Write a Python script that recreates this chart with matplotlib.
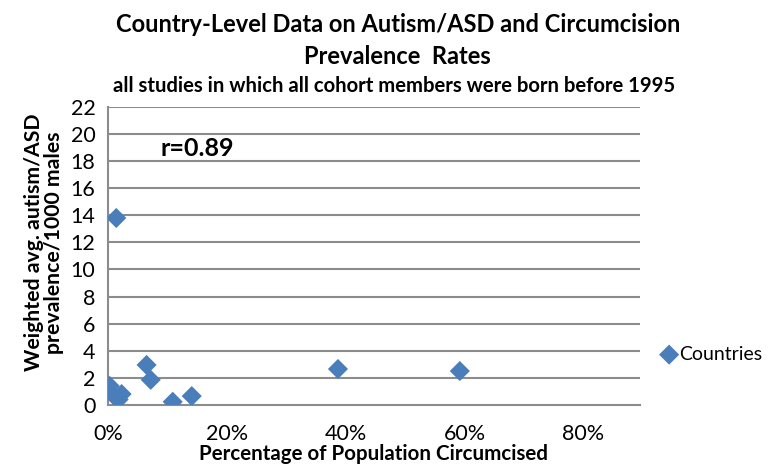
import numpy as np
import matplotlib
matplotlib.use("Agg")
import matplotlib.pyplot as plt
from matplotlib.ticker import PercentFormatter

plt.rcParams["font.family"] = ["Lato", "DejaVu Sans"]

# Country-level data points
pct_circumcised = [0.003, 0.012, 0.018, 0.023, 0.014, 0.065, 0.072, 0.109, 0.141, 0.387, 0.592]
asd_per_1000 = [1.4, 0.6, 0.4, 0.8, 13.8, 2.95, 1.85, 0.23, 0.65, 2.65, 2.5]
x_ticks = [0.0, 0.2, 0.4, 0.6, 0.8]
y_ticks = list(range(0, 23, 2))
r_label = "r=0.89"

grid_col = "#8c8c8c"
point_col = "#4a7ebb"

fig = plt.figure(figsize=(7.71, 4.67), dpi=100)
ax = fig.add_axes([0.140, 0.133, 0.690, 0.638])

ax.scatter(pct_circumcised, asd_per_1000, marker="D", s=105, color=point_col,
           edgecolors="none", label="Countries", zorder=3)

ax.set_xlim(0, 0.895)
ax.set_ylim(0, 22)
ax.set_xticks(x_ticks)
ax.set_yticks(y_ticks)
ax.xaxis.set_major_formatter(PercentFormatter(1.0, decimals=0))
ax.tick_params(length=0, labelsize=15.5)
ax.tick_params(axis="x", pad=14)
ax.tick_params(axis="y", pad=9)

for y in y_ticks[1:]:
    ax.axhline(y, color=grid_col, lw=1.5, zorder=1)
for side in ["top", "right"]:
    ax.spines[side].set_visible(False)
for side in ["left", "bottom"]:
    ax.spines[side].set_color(grid_col)
    ax.spines[side].set_linewidth(1.5)

ax.set_xlabel("Percentage of Population Circumcised", fontsize=14.8,
              fontweight="bold", labelpad=0)
ax.set_ylabel("Weighted avg. autism/ASD\nprevalence/1000 males", fontsize=15.3,
              fontweight="bold", linespacing=1.0)
ax.yaxis.set_label_coords(-0.083, 0.545)

ax.text(0.088, 18.35, r_label, fontsize=18, fontweight="bold")

fig.text(0.516, 0.948, "Country-Level Data on Autism/ASD and Circumcision",
         ha="center", va="center", fontsize=17, fontweight="bold")
fig.text(0.516, 0.880, "Prevalence  Rates", ha="center", va="center",
         fontsize=17, fontweight="bold")
fig.text(0.511, 0.816, "all studies in which all cohort members were born before 1995",
         ha="center", va="center", fontsize=14.6, fontweight="bold")

leg = ax.legend(loc="center left", bbox_to_anchor=(1.022, 0.17), frameon=False,
                fontsize=14, handletextpad=0.0, borderaxespad=0,
                handlelength=1.0)

fig.savefig("out.png", dpi=100)
